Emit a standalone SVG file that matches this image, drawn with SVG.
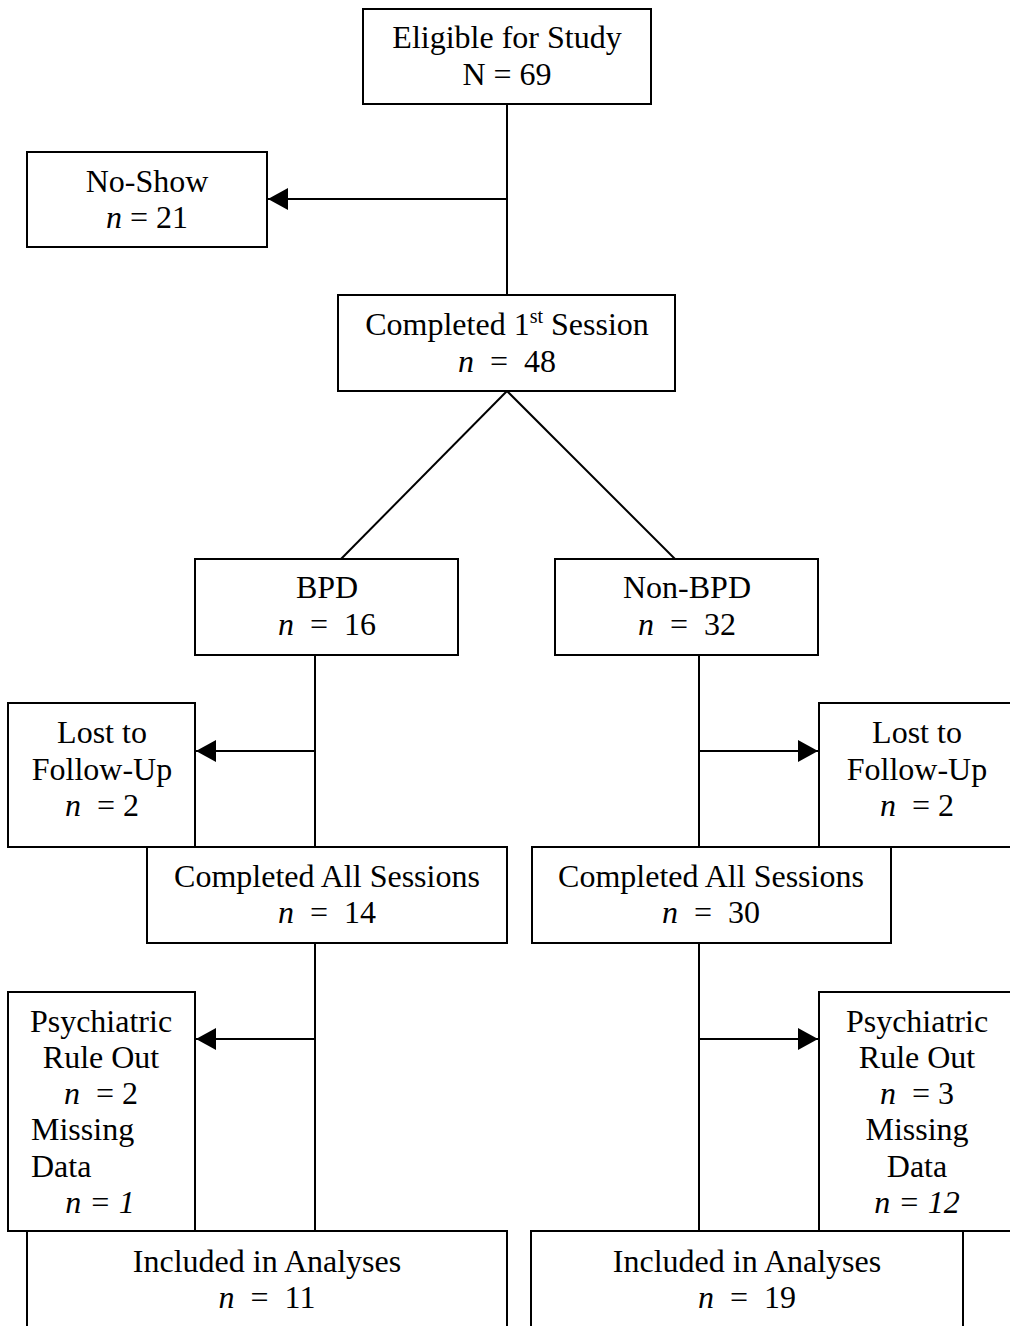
<svg xmlns="http://www.w3.org/2000/svg" width="1010" height="1326" viewBox="0 0 1010 1326">
<style>
  .box { fill: #fff; stroke: #000; stroke-width: 2; }
  .ln { fill: none; stroke: #000; stroke-width: 2; }
  text { font-family: "Liberation Serif", "Times New Roman", serif; font-size: 32px; fill: #000; white-space: pre; }
  .c { text-anchor: middle; }
  .i { font-style: italic; }
</style>
<defs>
  <marker id="arr" markerUnits="userSpaceOnUse" markerWidth="22" markerHeight="24" refX="20" refY="11" orient="auto">
    <polygon points="0,0 20,11 0,22" fill="#000"/>
  </marker>
</defs>
<rect width="1010" height="1326" fill="#fff"/>
<g id="connectors">
  <line class="ln" x1="507" y1="104" x2="507" y2="295"/>
  <line class="ln" x1="507" y1="199" x2="268" y2="199" marker-end="url(#arr)"/>
  <line class="ln" x1="507" y1="391" x2="341" y2="559"/>
  <line class="ln" x1="507" y1="391" x2="675" y2="559"/>
  <line class="ln" x1="315" y1="655" x2="315" y2="847"/>
  <line class="ln" x1="315" y1="751" x2="196" y2="751" marker-end="url(#arr)"/>
  <line class="ln" x1="699" y1="655" x2="699" y2="847"/>
  <line class="ln" x1="699" y1="751" x2="818" y2="751" marker-end="url(#arr)"/>
  <line class="ln" x1="315" y1="943" x2="315" y2="1231"/>
  <line class="ln" x1="315" y1="1039" x2="196" y2="1039" marker-end="url(#arr)"/>
  <line class="ln" x1="699" y1="943" x2="699" y2="1231"/>
  <line class="ln" x1="699" y1="1039" x2="818" y2="1039" marker-end="url(#arr)"/>
</g>
<g id="eligible">
  <rect class="box" x="363" y="9" width="288" height="95"/>
  <text class="c" x="507" y="48">Eligible for Study</text>
  <text class="c" x="507" y="85">N = 69</text>
</g>
<g id="noshow">
  <rect class="box" x="27" y="152" width="240" height="95"/>
  <text class="c" x="147" y="192">No-Show</text>
  <text class="c" x="147" y="228"><tspan class="i">n</tspan> = 21</text>
</g>
<g id="first">
  <rect class="box" x="338" y="295" width="337" height="96"/>
  <text class="c" x="507" y="335">Completed 1<tspan font-size="20" dy="-12">st</tspan><tspan dy="12"> Session</tspan></text>
  <text class="c" x="507" y="372"><tspan class="i">n</tspan>  =  48</text>
</g>
<g id="bpd">
  <rect class="box" x="195" y="559" width="263" height="96"/>
  <text class="c" x="327" y="598">BPD</text>
  <text class="c" x="327" y="635"><tspan class="i">n</tspan>  =  16</text>
</g>
<g id="nonbpd">
  <rect class="box" x="555" y="559" width="263" height="96"/>
  <text class="c" x="687" y="598">Non-BPD</text>
  <text class="c" x="687" y="635"><tspan class="i">n</tspan>  =  32</text>
</g>
<g id="lost-left">
  <rect class="box" x="8" y="703" width="187" height="144"/>
  <text class="c" x="102" y="743">Lost to</text>
  <text class="c" x="102" y="780">Follow-Up</text>
  <text class="c" x="102" y="816"><tspan class="i">n</tspan>  = 2</text>
</g>
<g id="lost-right">
  <rect class="box" x="819" y="703" width="197" height="144"/>
  <text class="c" x="917" y="743">Lost to</text>
  <text class="c" x="917" y="780">Follow-Up</text>
  <text class="c" x="917" y="816"><tspan class="i">n</tspan>  = 2</text>
</g>
<g id="all-left">
  <rect class="box" x="147" y="847" width="360" height="96"/>
  <text class="c" x="327" y="887">Completed All Sessions</text>
  <text class="c" x="327" y="923"><tspan class="i">n</tspan>  =  14</text>
</g>
<g id="all-right">
  <rect class="box" x="532" y="847" width="359" height="96"/>
  <text class="c" x="711" y="887">Completed All Sessions</text>
  <text class="c" x="711" y="923"><tspan class="i">n</tspan>  =  30</text>
</g>
<g id="psych-left">
  <rect class="box" x="8" y="992" width="187" height="239"/>
  <text class="c" x="101" y="1032">Psychiatric</text>
  <text class="c" x="101" y="1068">Rule Out</text>
  <text class="c" x="101" y="1104"><tspan class="i">n</tspan>  = 2</text>
  <text x="31" y="1140">Missing</text>
  <text x="31" y="1177">Data</text>
  <text class="c i" x="100" y="1213">n = 1</text>
</g>
<g id="psych-right">
  <rect class="box" x="819" y="992" width="197" height="239"/>
  <text class="c" x="917" y="1032">Psychiatric</text>
  <text class="c" x="917" y="1068">Rule Out</text>
  <text class="c" x="917" y="1104"><tspan class="i">n</tspan>  = 3</text>
  <text class="c" x="917" y="1140">Missing</text>
  <text class="c" x="917" y="1177">Data</text>
  <text class="c i" x="917" y="1213">n = 12</text>
</g>
<g id="included-left">
  <rect class="box" x="27" y="1231" width="480" height="120"/>
  <text class="c" x="267" y="1272">Included in Analyses</text>
  <text class="c" x="267" y="1308"><tspan class="i">n</tspan>  =  11</text>
</g>
<g id="included-right">
  <rect class="box" x="531" y="1231" width="432" height="120"/>
  <text class="c" x="747" y="1272">Included in Analyses</text>
  <text class="c" x="747" y="1308"><tspan class="i">n</tspan>  =  19</text>
</g>
</svg>
